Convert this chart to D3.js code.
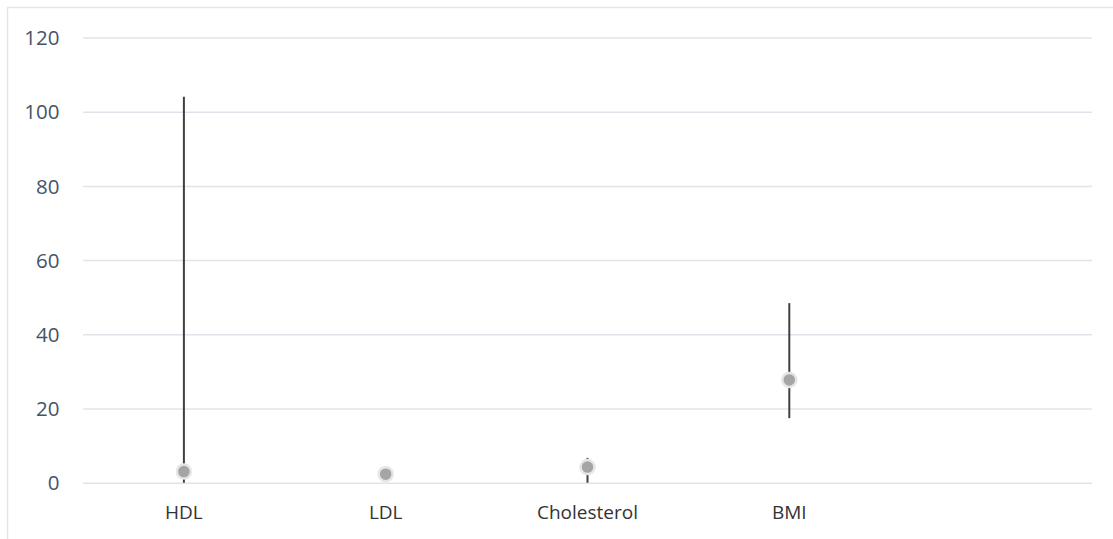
<!DOCTYPE html>
<html>
<head>
<meta charset="utf-8">
<script src="https://cdn.jsdelivr.net/npm/d3@7"></script>
<style>
  html, body { margin: 0; padding: 0; background: #ffffff; }
  svg { display: block; }
</style>
</head>
<body>
<svg id="chart" width="1113" height="539"></svg>
<script>
// ---- data ----
const categories = ["HDL", "LDL", "Cholesterol", "BMI", ""];
const meanValues = [3.0, 2.3, 4.2, 27.7, null];
const lowerValues = [0, 2.3, 0, 17.4, null];
const upperValues = [104, 2.3, 6.7, 48.4, null];
const yTicks = [0, 20, 40, 60, 80, 100, 120];

const rows = categories.map((c, i) => ({
  cat: c, mean: meanValues[i], lo: lowerValues[i], hi: upperValues[i]
}));

// ---- layout ----
const W = 1113, H = 539;
const plot = { left: 83, right: 1092, top: 37.5, bottom: 482.7 };

const svg = d3.select("#chart");

// outer frame (top + left visible)
svg.append("rect")
  .attr("x", 7.5).attr("y", 7.5)
  .attr("width", W + 20).attr("height", H + 20)
  .attr("fill", "#ffffff")
  .attr("stroke", "#e2e5ea").attr("stroke-width", 1.5);

const x = d3.scaleBand().domain(d3.range(categories.length))
  .range([plot.left, plot.right]).padding(0);
const y = d3.scaleLinear().domain([0, 120]).range([plot.bottom, plot.top]);

// gridlines
const yAxis = d3.axisLeft(y).tickValues(yTicks)
  .tickSize(-(plot.right - plot.left)).tickPadding(23.5).tickFormat(d3.format("d"));
const gy = svg.append("g").attr("transform", `translate(${plot.left},0)`).call(yAxis);
gy.select(".domain").remove();
gy.selectAll(".tick line").attr("stroke", "#e0e4ea").attr("stroke-width", 1.5);
gy.selectAll(".tick text")
  .attr("fill", "#44546a")
  .attr("dy", "0.35em")
  .style("font-family", "'Open Sans', 'Noto Sans', sans-serif")
  .style("font-size", "20.5px");

// x labels
const xAxis = d3.axisBottom(x).tickFormat(i => categories[i]).tickSize(0);
const gx = svg.append("g").attr("transform", `translate(0,${plot.bottom})`).call(xAxis);
gx.select(".domain").remove();
gx.selectAll(".tick text")
  .attr("y", 36).attr("dy", "0")
  .attr("fill", "#333333")
  .style("font-family", "'Open Sans', 'Noto Sans', sans-serif")
  .style("font-size", "19px");

const cx = i => x(i) + x.bandwidth() / 2;
const data = rows.map((r, i) => ({ ...r, i })).filter(r => r.mean !== null);

// error bars
svg.append("g").selectAll("line").data(data.filter(d => d.hi > d.lo)).join("line")
  .attr("x1", d => cx(d.i)).attr("x2", d => cx(d.i))
  .attr("y1", d => y(d.lo)).attr("y2", d => y(d.hi))
  .attr("stroke", "#404040").attr("stroke-width", 2);

// markers
svg.append("g").selectAll("circle").data(data).join("circle")
  .attr("cx", d => cx(d.i)).attr("cy", d => y(d.mean))
  .attr("r", 7)
  .attr("fill", "#a5a5a5")
  .attr("stroke", "#e6e6e6").attr("stroke-width", 2.5);
</script>
</body>
</html>
